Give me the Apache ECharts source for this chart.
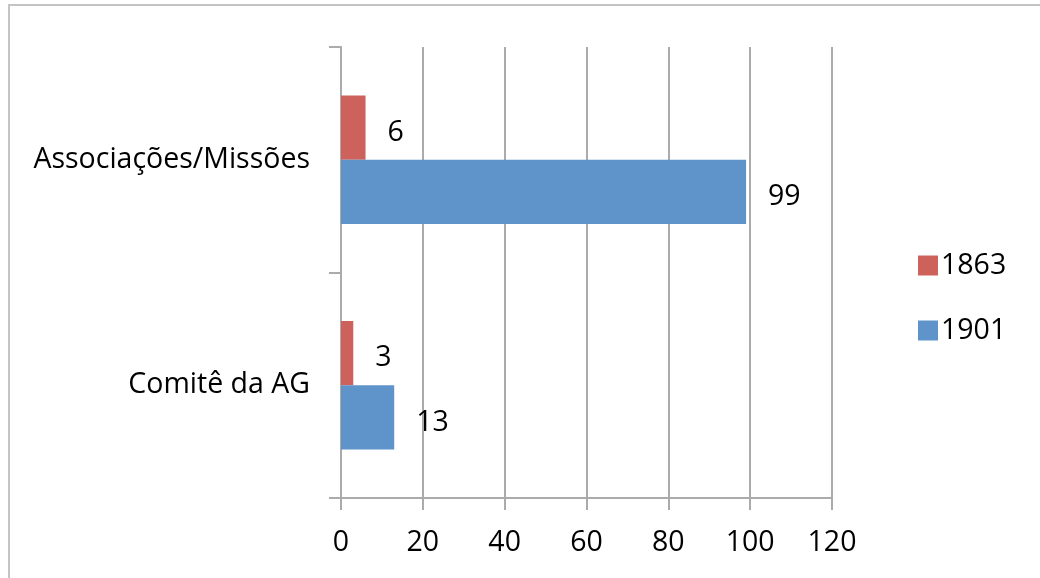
<!DOCTYPE html>
<html>
<head>
<meta charset="utf-8">
<script src="https://cdn.jsdelivr.net/npm/echarts@6/dist/echarts.min.js"></script>
<style>
  html, body { margin: 0; padding: 0; background: #fff; }
  #chart { width: 1040px; height: 578px; }
</style>
</head>
<body>
<div id="chart"></div>
<script>
const categories = ["Comitê da AG", "Associações/Missões"];
const values1863 = [3, 6];
const values1901 = [13, 99];
const xTicks = [0, 20, 40, 60, 80, 100, 120];

const font = "'Open Sans', sans-serif";
const grey = "#ABABAB";
const fs = 28.5;

let myChart = echarts.init(document.getElementById("chart"));
const option = {
  backgroundColor: "#fff",
  animation: false,
  textStyle: { fontFamily: font },
  graphic: [
    {
      type: "rect",
      shape: { x: 9, y: 5, width: 1060, height: 600 },
      style: { fill: "none", stroke: "#C4C4C4", lineWidth: 2 }
    }
  ],
  legend: {
    orient: "vertical",
    left: 913,
    top: 246,
    itemWidth: 20,
    itemHeight: 20,
    itemGap: 36,
    data: ["1863", "1901"],
    textStyle: { fontSize: fs, color: "#000", fontFamily: font, padding: [0, 0, 0, -2] },
    icon: "rect"
  },
  grid: {
    left: 341,
    right: 208,
    top: 47,
    bottom: 80
  },
  xAxis: {
    type: "value",
    min: xTicks[0],
    max: xTicks[xTicks.length - 1],
    interval: 20,
    axisLine: { show: true, lineStyle: { color: grey, width: 2 } },
    axisTick: { show: true, length: 12, lineStyle: { color: grey, width: 2 } },
    splitLine: { show: true, lineStyle: { color: grey, width: 2 } },
    axisLabel: { fontSize: fs, color: "#000", margin: 30, fontFamily: font }
  },
  yAxis: {
    type: "category",
    data: categories,
    axisLine: { show: true, lineStyle: { color: grey, width: 2 } },
    axisTick: { show: true, length: 12, lineStyle: { color: grey, width: 2 } },
    axisLabel: { fontSize: fs, color: "#000", margin: 31, fontFamily: font, padding: [4, 0, 0, 0] }
  },
  series: [
    {
      name: "1863",
      type: "bar",
      data: values1863,
      barGap: "0%",
      barCategoryGap: "43%",
      itemStyle: { color: "#CD625D" },
      label: { show: true, position: "right", distance: 22, offset: [0, 5], fontSize: fs, color: "#000", fontFamily: font }
    },
    {
      name: "1901",
      type: "bar",
      data: values1901,
      barGap: "0%",
      barCategoryGap: "43%",
      itemStyle: { color: "#5E94CA" },
      label: { show: true, position: "right", distance: 22, offset: [0, 5], fontSize: fs, color: "#000", fontFamily: font }
    }
  ]
};
myChart.setOption(option);
</script>
</body>
</html>
